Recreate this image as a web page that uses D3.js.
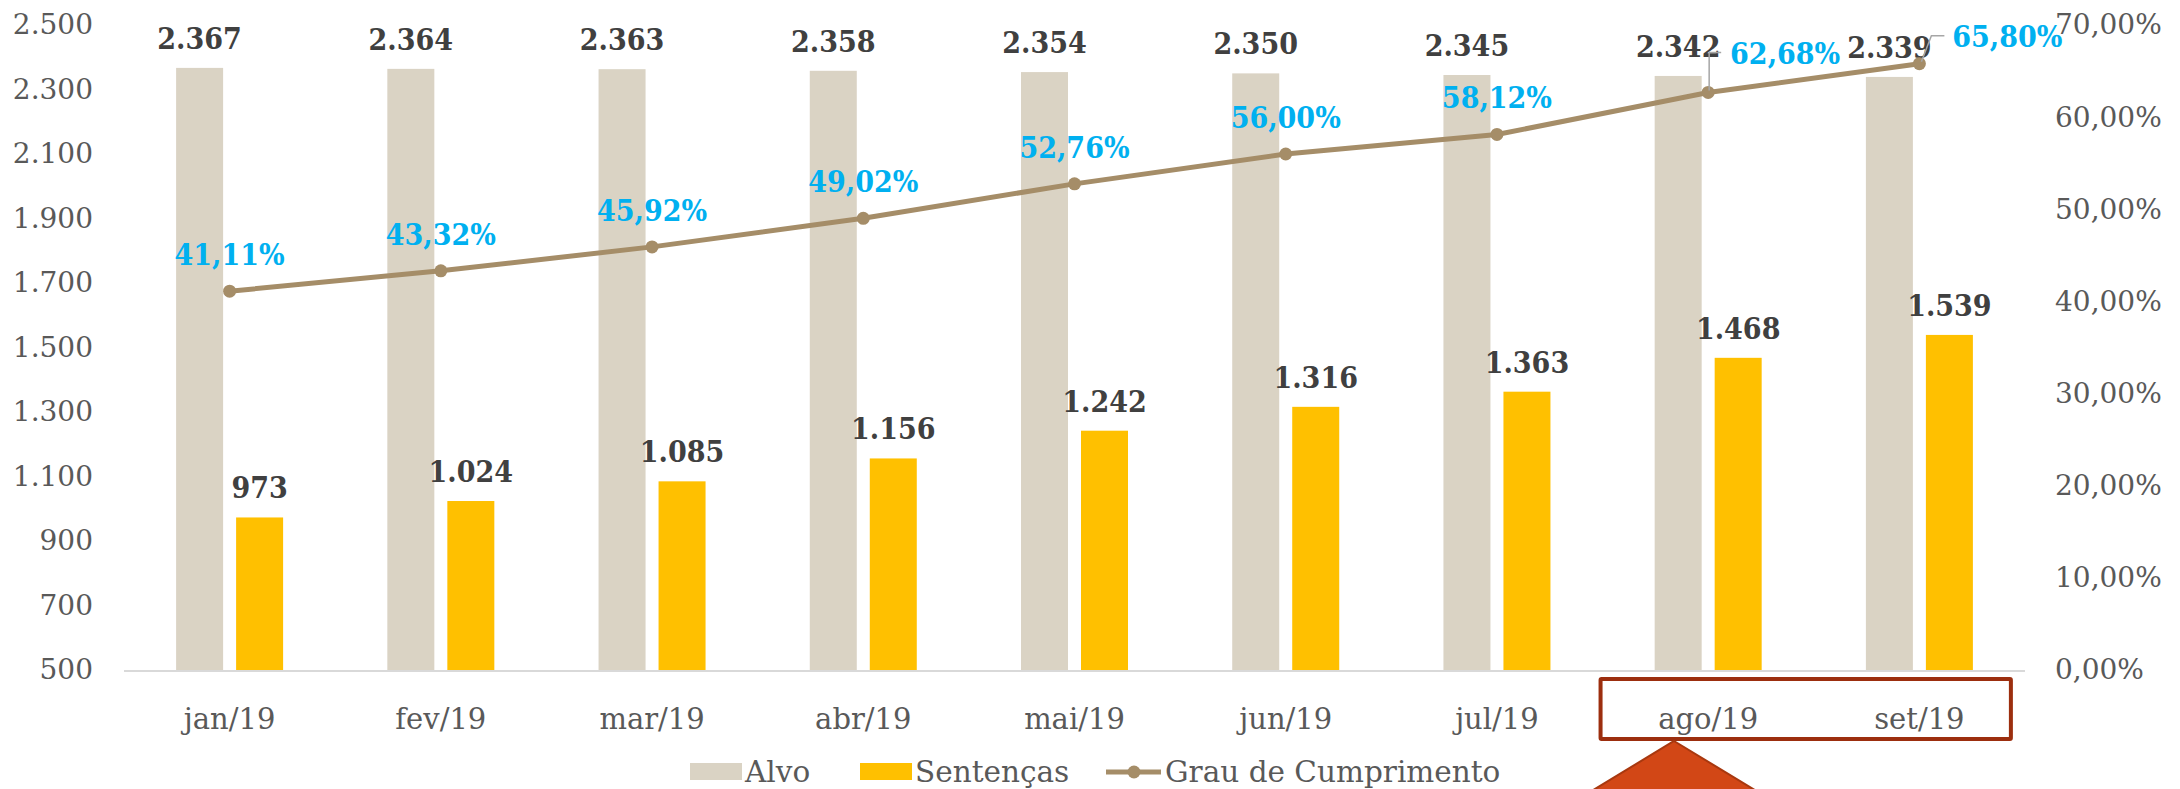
<!DOCTYPE html>
<html>
<head>
<meta charset="utf-8">
<script src="https://cdnjs.cloudflare.com/ajax/libs/d3/7.8.5/d3.min.js"></script>
<style>
  html, body { margin: 0; padding: 0; background: #fff; }
  svg { display: block; }
  .axis-label { font-family: "DejaVu Serif", serif; font-size: 28px; fill: #595959; }
  .cat-label { font-family: "DejaVu Serif", serif; font-size: 29px; fill: #595959; }
  .legend-label { font-family: "DejaVu Serif", serif; font-size: 29.5px; fill: #595959; }
  .val-label { font-family: "DejaVu Serif Condensed", "DejaVu Serif", serif; font-stretch: condensed; font-weight: bold; font-size: 30px; fill: #404040; }
  .pct-label { font-family: "DejaVu Serif Condensed", "DejaVu Serif", serif; font-stretch: condensed; font-weight: bold; font-size: 30px; fill: #00B0F0; }
</style>
</head>
<body>
<svg id="chart"></svg>
<script>
var categories = ['jan/19', 'fev/19', 'mar/19', 'abr/19', 'mai/19', 'jun/19', 'jul/19', 'ago/19', 'set/19'];
var alvo = [2367, 2364, 2363, 2358, 2354, 2350, 2345, 2342, 2339];
var sentencas = [973, 1024, 1085, 1156, 1242, 1316, 1363, 1468, 1539];
var grau = [41.11, 43.32, 45.92, 49.02, 52.76, 56.00, 58.12, 62.68, 65.80];
var leftTicks = [500, 700, 900, 1100, 1300, 1500, 1700, 1900, 2100, 2300, 2500];
var rightTicks = [0, 10, 20, 30, 40, 50, 60, 70];
var seriesNames = ['Alvo', 'Sentenças', 'Grau de Cumprimento'];

var width = 2180, height = 789;
var plot = { left: 124, right: 2025, top: 25, bottom: 670 };
var colors = { alvo: '#DAD3C4', sent: '#FFC000', line: '#A58D68' };

var ptBR = d3.formatLocale({ decimal: ',', thousands: '.', grouping: [3], currency: ['R$', ''] });
var fmtInt = ptBR.format(',d');
var fmtPct = function (v) { return ptBR.format('.2f')(v) + '%'; };

var svg = d3.select('#chart').attr('width', width).attr('height', height);

var bandPad = 1 - 107 / ((plot.right - plot.left) / categories.length);
var x0 = d3.scaleBand().domain(categories).range([plot.left, plot.right])
  .paddingInner(bandPad).paddingOuter(bandPad / 2);
var x1 = d3.scaleBand().domain(['alvo', 'sent']).range([0, x0.bandwidth()]).paddingInner(13 / 60);
var yL = d3.scaleLinear().domain([500, 2500]).range([plot.bottom, plot.top]);
var yR = d3.scaleLinear().domain([0, 70]).range([plot.bottom, plot.top]);
var cx = function (c) { return x0(c) + x0.bandwidth() / 2; };

function styleTicks(g, cls) {
  g.selectAll('text').attr('class', cls).attr('font-family', null).attr('font-size', null).attr('fill', null);
}

// left axis
var axL = svg.append('g').attr('transform', 'translate(' + (plot.left - 31) + ',0)')
  .call(d3.axisLeft(yL).tickValues(leftTicks).tickFormat(fmtInt).tickSize(0).tickPadding(0));
axL.select('.domain').remove();
styleTicks(axL, 'axis-label');

// right axis
var axR = svg.append('g').attr('transform', 'translate(' + (plot.right + 30) + ',0)')
  .call(d3.axisRight(yR).tickValues(rightTicks).tickFormat(function (d) { return ptBR.format('.2f')(d) + '%'; }).tickSize(0).tickPadding(0));
axR.select('.domain').remove();
styleTicks(axR, 'axis-label');

// bars
var rows = categories.map(function (c, i) { return { cat: c, alvo: alvo[i], sent: sentencas[i], grau: grau[i] }; });

svg.append('g').selectAll('rect').data(rows).enter().append('rect')
  .attr('x', function (d) { return x0(d.cat) + x1('alvo'); })
  .attr('y', function (d) { return yL(d.alvo); })
  .attr('width', x1.bandwidth())
  .attr('height', function (d) { return yL(500) - yL(d.alvo); })
  .attr('fill', colors.alvo);

svg.append('g').selectAll('rect').data(rows).enter().append('rect')
  .attr('x', function (d) { return x0(d.cat) + x1('sent'); })
  .attr('y', function (d) { return yL(d.sent); })
  .attr('width', x1.bandwidth())
  .attr('height', function (d) { return yL(500) - yL(d.sent); })
  .attr('fill', colors.sent);

// x axis
var axB = svg.append('g').attr('transform', 'translate(0,' + plot.bottom + ')')
  .call(d3.axisBottom(x0).tickSize(0).tickPadding(38));
axB.select('.domain').attr('stroke', '#D9D9D9').attr('stroke-width', 2).attr('d', 'M' + plot.left + ',1H' + plot.right);
styleTicks(axB, 'cat-label');

// value labels
svg.append('g').selectAll('text').data(rows).enter().append('text')
  .attr('class', 'val-label').attr('text-anchor', 'middle')
  .attr('x', function (d) { return x0(d.cat) + x1('alvo') + x1.bandwidth() / 2; })
  .attr('y', function (d) { return yL(d.alvo) - 19; })
  .text(function (d) { return fmtInt(d.alvo); });

svg.append('g').selectAll('text').data(rows).enter().append('text')
  .attr('class', 'val-label').attr('text-anchor', 'middle')
  .attr('x', function (d) { return x0(d.cat) + x1('sent') + x1.bandwidth() / 2; })
  .attr('y', function (d) { return yL(d.sent) - 19; })
  .text(function (d) { return fmtInt(d.sent); });

// line
var line = d3.line().x(function (d) { return cx(d.cat); }).y(function (d) { return yR(d.grau); });
svg.append('path').datum(rows).attr('d', line)
  .attr('fill', 'none').attr('stroke', colors.line).attr('stroke-width', 5);
svg.append('g').selectAll('circle').data(rows).enter().append('circle')
  .attr('cx', function (d) { return cx(d.cat); })
  .attr('cy', function (d) { return yR(d.grau); })
  .attr('r', 6.5).attr('fill', colors.line);

// percent labels: the last two were moved aside with leader lines
var n = rows.length;
svg.append('g').selectAll('text').data(rows).enter().append('text')
  .attr('class', 'pct-label').attr('text-anchor', 'middle')
  .attr('x', function (d, i) {
    if (i === n - 2) return cx(d.cat) + 77;
    if (i === n - 1) return cx(d.cat) + 88;
    return cx(d.cat);
  })
  .attr('y', function (d, i) {
    if (i === n - 2) return yR(d.grau) - 28;
    if (i === n - 1) return yR(d.grau) - 17;
    return yR(d.grau) - 26;
  })
  .text(function (d) { return fmtPct(d.grau); });

var leaders = svg.append('g').attr('fill', 'none').attr('stroke', '#A6A6A6').attr('stroke-width', 1.5);
var pA = rows[n - 2], pB = rows[n - 1];
leaders.append('path').attr('d',
  'M' + (cx(pA.cat) + 1) + ',' + (yR(pA.grau) - 2) + 'V' + (yR(pA.grau) - 40) + 'h12');
leaders.append('path').attr('d',
  'M' + (cx(pB.cat) + 2) + ',' + (yR(pB.grau) - 2) + 'L' + (cx(pB.cat) + 12) + ',' + (yR(pB.grau) - 28) + 'h13');

// highlight box and arrow
var boxL = x0('ago/19') - x0.paddingOuter() * x0.step() - 2;
var boxR = x0('set/19') + x0.bandwidth() + 38;
svg.append('rect').attr('x', boxL).attr('y', 679).attr('width', boxR - boxL).attr('height', 60)
  .attr('fill', 'none').attr('stroke', '#9C2E0E').attr('stroke-width', 4).attr('rx', 1);
svg.append('path').attr('d', 'M1674,741L1763,795L1585,795Z')
  .attr('fill', '#D24716').attr('stroke', '#A8380F').attr('stroke-width', 2);

// legend
var lg = svg.append('g').attr('class', 'legend-label');
lg.append('rect').attr('x', 690).attr('y', 763).attr('width', 52).attr('height', 17).attr('fill', colors.alvo);
lg.append('text').attr('x', 745).attr('y', 782).text(seriesNames[0]);
lg.append('rect').attr('x', 860).attr('y', 763).attr('width', 52).attr('height', 17).attr('fill', colors.sent);
lg.append('text').attr('x', 915).attr('y', 782).text(seriesNames[1]);
lg.append('line').attr('x1', 1106).attr('x2', 1161).attr('y1', 772).attr('y2', 772)
  .attr('stroke', colors.line).attr('stroke-width', 5);
lg.append('circle').attr('cx', 1134).attr('cy', 772).attr('r', 6.5).attr('fill', colors.line);
lg.append('text').attr('x', 1165).attr('y', 782).text(seriesNames[2]);
</script>
</body>
</html>
